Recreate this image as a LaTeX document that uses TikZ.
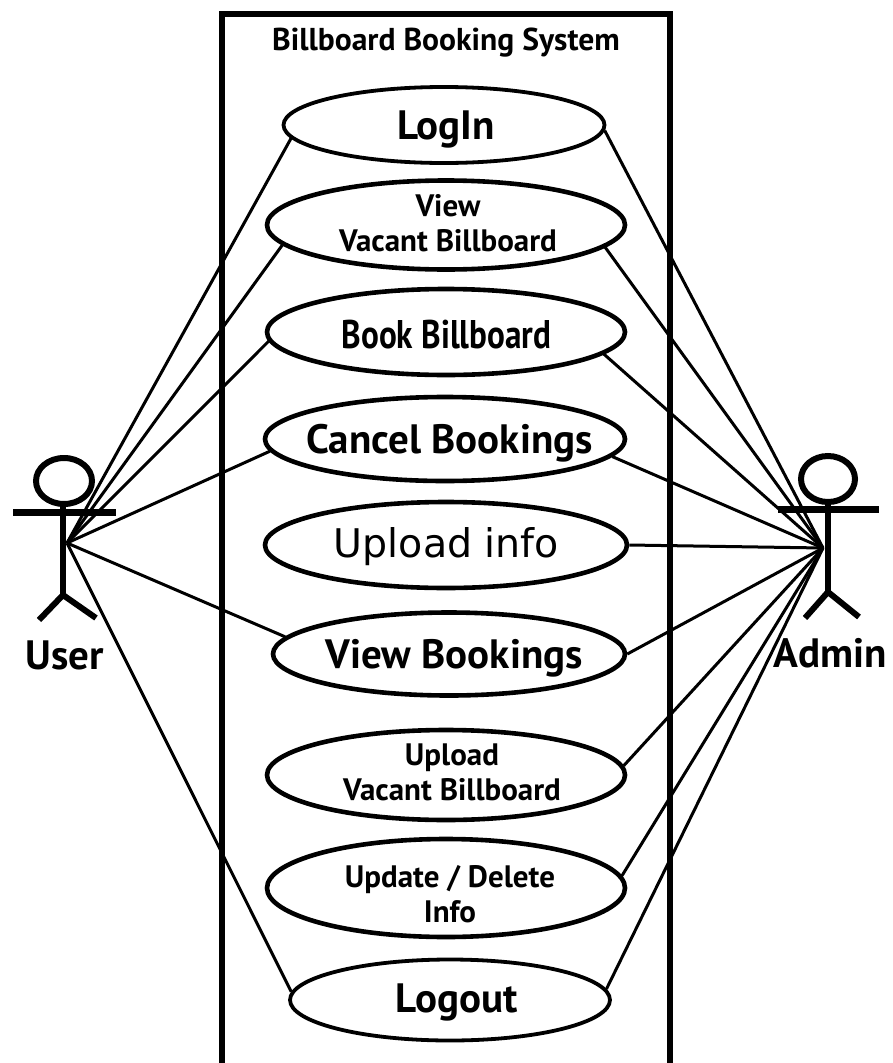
\documentclass[tikz,border=0pt]{standalone}
\usepackage{fontspec}
\setmainfont{PT Sans}
\newfontfamily\upfont{DejaVu Sans}
\newfontfamily\bookfont[FakeStretch=0.83,BoldFont={PT Sans Bold}]{PT Sans}
\usetikzlibrary{shapes.geometric}
\begin{document}
\begin{tikzpicture}[x=1pt,y=-1pt,
 uc/.style={ellipse,draw,line width=4.6pt,fill=white,inner sep=0pt},
 ucthin/.style={uc,line width=3.8pt},
 link/.style={line width=3pt},
 frame/.style={line width=6pt},
 actor/.style={line width=6pt},
 big/.style={font=\bfseries\fontsize{41}{44}\selectfont},
 small/.style={font=\bfseries\fontsize{31}{35}\selectfont},
 lbl/.style={inner sep=0pt,align=center,text=black}]
\useasboundingbox (0,0) rectangle (892,1063);
\fill[white] (0,0) rectangle (892,1063);
\coordinate (u) at (67,543);
\coordinate (a) at (823,548);
\node[ucthin,minimum width=321,minimum height=76] (login) at (444,125) {};
\node[uc,minimum width=358,minimum height=89] (view) at (446,225) {};
\node[uc,minimum width=358,minimum height=86] (book) at (446,332) {};
\node[uc,minimum width=360,minimum height=84] (cancel) at (445,439) {};
\node[uc,minimum width=362,minimum height=86] (upinfo) at (446,545) {};
\node[uc,minimum width=352,minimum height=83] (vbook) at (449,654) {};
\node[uc,minimum width=358,minimum height=90] (upvac) at (446,775) {};
\node[uc,minimum width=358,minimum height=98] (upd) at (446,888) {};
\node[ucthin,minimum width=320,minimum height=81] (logout) at (450,1000) {};
\node[lbl,big] (tlogin) at (446,129) {LogIn};
\node[lbl,small] (tview) at (448,223) {View\\Vacant Billboard};
\node[lbl,font=\bookfont\bfseries\fontsize{40}{44}\selectfont] (tbook) at (446.5,335) {Book Billboard};
\node[lbl,big] (tcancel) at (449.5,443) {Cancel Bookings};
\node[lbl,font=\upfont\fontsize{39.5}{44}\selectfont] (tupinfo) at (446.5,547) {Upload info};
\node[lbl,big] (tvbook) at (454,658) {View Bookings};
\node[lbl,small] (tupvac) at (452,772) {Upload\\Vacant Billboard};
\node[lbl,small] (tupd) at (450,894) {Update / Delete\\Info};
\node[lbl,big] (tlogout) at (457,1002) {Logout};
\draw[link] (u) -- (login.185);
\draw[link] (u) -- (view.187.5);
\draw[link] (u) -- (book.183);
\draw[link] (u) -- (cancel.184);
\draw[link] (u) -- (vbook.174.5);
\draw[link] (u) -- (logout.177);
\draw[link] (a) -- (login.-2);
\draw[link] (a) -- (view.-8);
\draw[link] (a) -- (book.-8);
\draw[link] (a) -- (cancel.-6.6);
\draw[link] (a) -- (upinfo.0);
\draw[link] (a) -- (vbook.0.6);
\draw[link] (a) -- (upvac.3.8);
\draw[link] (a) -- (upd.4.2);
\draw[link] (a) -- (logout.4.3);
\draw[frame] (222,1063) -- (222,14) -- (670,14) -- (670,1063);
\node[lbl,font=\bfseries\fontsize{31.6}{34}\selectfont] (title) at (446,43) {Billboard Booking System};
\draw[actor] (64,481) ellipse [x radius=28,y radius=23];
\draw[actor] (63,504) -- (63,595);
\draw[actor,line width=7pt] (13,512) -- (116,512);
\draw[actor] (39,620) -- (63,595) -- (96,618);
\draw[actor] (828,479) ellipse [x radius=27,y radius=23];
\draw[actor] (828,502) -- (828,592);
\draw[actor,line width=7pt] (778,509) -- (879,509);
\draw[actor] (805,618) -- (828,592) -- (859,617);
\node[lbl,big] (ulabel) at (65,655) {User};
\node[lbl,big] (alabel) at (830,653) {Admin};
\end{tikzpicture}
\end{document}
